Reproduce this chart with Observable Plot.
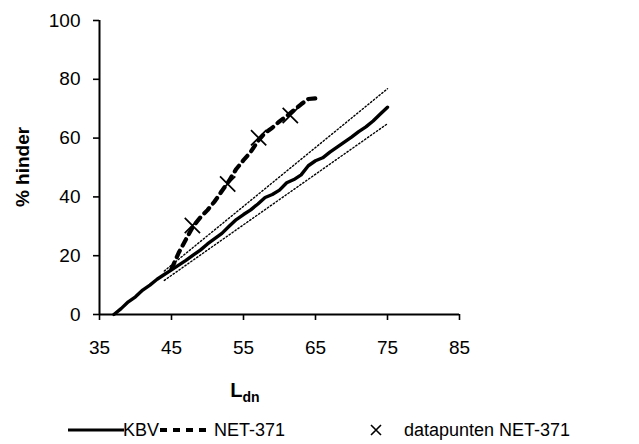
<!DOCTYPE html>
<html><head><meta charset="utf-8">
<script src="https://cdn.jsdelivr.net/npm/d3@7"></script>
<script src="https://cdn.jsdelivr.net/npm/@observablehq/plot@0.6"></script>
<style>
body{margin:0;background:#fff;font-family:"Liberation Sans",Arial,sans-serif;}
#wrap{position:relative;width:639px;height:444px;overflow:hidden;}
#legend{position:absolute;left:0;top:410px;width:639px;height:34px;font-size:18px;color:#000;}
#legend .it{position:absolute;top:0;height:34px;line-height:34px;white-space:nowrap;}
#legend svg{position:absolute;top:0;}
</style></head><body><div id="wrap"><div id="legend"></div></div>
<script>
// KBV curve
const kbvL = [37,38,39,40,41,42,43,44,45,46,47,48,49,50,51,52,53,54,55,56,57,58,59,60,61,62,63,64,65,66,67,68,69,70,71,72,73,74,75];
const kbvV = [0,2,4.3,6,8.3,10,12,13.6,15.2,16.8,18.4,20.2,21.9,24,25.8,27.6,30,32.3,34,35.6,37.6,39.8,40.8,42.3,44.8,45.9,47.5,50.6,52.3,53.3,55.2,56.9,58.6,60.3,62.2,63.8,65.8,68.2,70.5];
// KBV band (dotted)
const bandL = [44, 75];
const bandUpper = [14.8, 76.8];
const bandLower = [11.6, 64.9];
// NET-371 curve
const netL = [45,46,47,48,49,50,51,52,53,54,55,56,57,58,59,60,61,62,63,64,65];
const netV = [15.5,21,25.5,30,33,35.5,38.5,42,45.5,49.5,52.5,55.3,59,61.8,63.5,65.7,67.5,69.5,71.5,73.3,73.5];
// datapunten NET-371
const ptsL = [47.9, 52.8, 57.1, 61.5];
const ptsV = [30.3, 44.4, 60.1, 67.7];
// axes
const xTicks = [35,45,55,65,75,85];
const yTicks = [0,20,40,60,80,100];
const seriesNames = ["KBV", "NET-371", "datapunten NET-371"];

const kbv = kbvL.map((x,i)=>({x, y:kbvV[i]}));
const up = bandL.map((x,i)=>({x, y:bandUpper[i]}));
const lo = bandL.map((x,i)=>({x, y:bandLower[i]}));
const net = netL.map((x,i)=>({x, y:netV[i]}));
const pts = ptsL.map((x,i)=>({x, y:ptsV[i]}));

const chart = Plot.plot({
  width: 639, height: 410,
  marginLeft: 99, marginRight: 180, marginTop: 20, marginBottom: 96,
  x: {domain: [35, 85]},
  y: {domain: [0, 100]},
  style: {fontFamily: '"Liberation Sans", Arial, sans-serif', fontSize: "19px", color: "#000", background: "#fff", overflow: "visible"},
  marks: [
    Plot.axisX({ticks: xTicks, tickSize: 6, tickPadding: 20, label: null, tickFormat: d => String(d), strokeWidth: 1.6}),
    Plot.axisY({ticks: yTicks, tickSize: 6, tickPadding: 13, label: null, tickFormat: d => String(d), strokeWidth: 1.6}),
    Plot.ruleX([35], {stroke: "#000", strokeWidth: 2}),
    Plot.ruleY([0], {stroke: "#000", strokeWidth: 2}),
    Plot.line(up, {x: "x", y: "y", stroke: "#000", strokeWidth: 1.4, strokeDasharray: "1.4,2.2"}),
    Plot.line(lo, {x: "x", y: "y", stroke: "#000", strokeWidth: 1.4, strokeDasharray: "1.4,2.2"}),
    Plot.line(kbv, {x: "x", y: "y", stroke: "#000", strokeWidth: 3.4, curve: "linear"}),
    Plot.line(net, {x: "x", y: "y", stroke: "#000", strokeWidth: 4.2, strokeDasharray: "7,6"}),
    Plot.dot(pts, {x: "x", y: "y", symbol: "times", r: 7, stroke: "#000", strokeWidth: 1.7})
  ]
});
document.getElementById("wrap").prepend(chart);

// x-axis title with subscript
const svg = d3.select(chart);
const xl = svg.append("text")
  .attr("x", 245).attr("y", 397)
  .attr("font-weight", "bold").attr("font-size", 20).attr("fill", "#000");
xl.append("tspan").text("L");
xl.append("tspan").attr("font-size", 14).attr("dy", 5).text("dn");
// y-axis title
svg.append("text")
  .attr("transform", "translate(29,167) rotate(-90)")
  .attr("text-anchor", "middle")
  .attr("font-weight", "bold").attr("font-size", 19).attr("fill", "#000")
  .text("% hinder");

// legend
const leg = document.getElementById("legend");
leg.innerHTML = `
<svg width="60" height="34" style="left:66px"><line x1="2" x2="58" y1="20" y2="20" stroke="#000" stroke-width="3"/></svg>
<div class="it" style="left:123px;top:3px">${seriesNames[0]}</div>
<svg width="56" height="34" style="left:158px"><line x1="2" x2="54" y1="20" y2="20" stroke="#000" stroke-width="4" stroke-dasharray="7,6"/></svg>
<div class="it" style="left:214px;top:3px">${seriesNames[1]}</div>
<svg width="20" height="34" style="left:366px"><path d="M5,15 L15,25 M15,15 L5,25" stroke="#000" stroke-width="1.6"/></svg>
<div class="it" style="left:404px;top:3px">${seriesNames[2]}</div>`;
</script>
</body></html>
